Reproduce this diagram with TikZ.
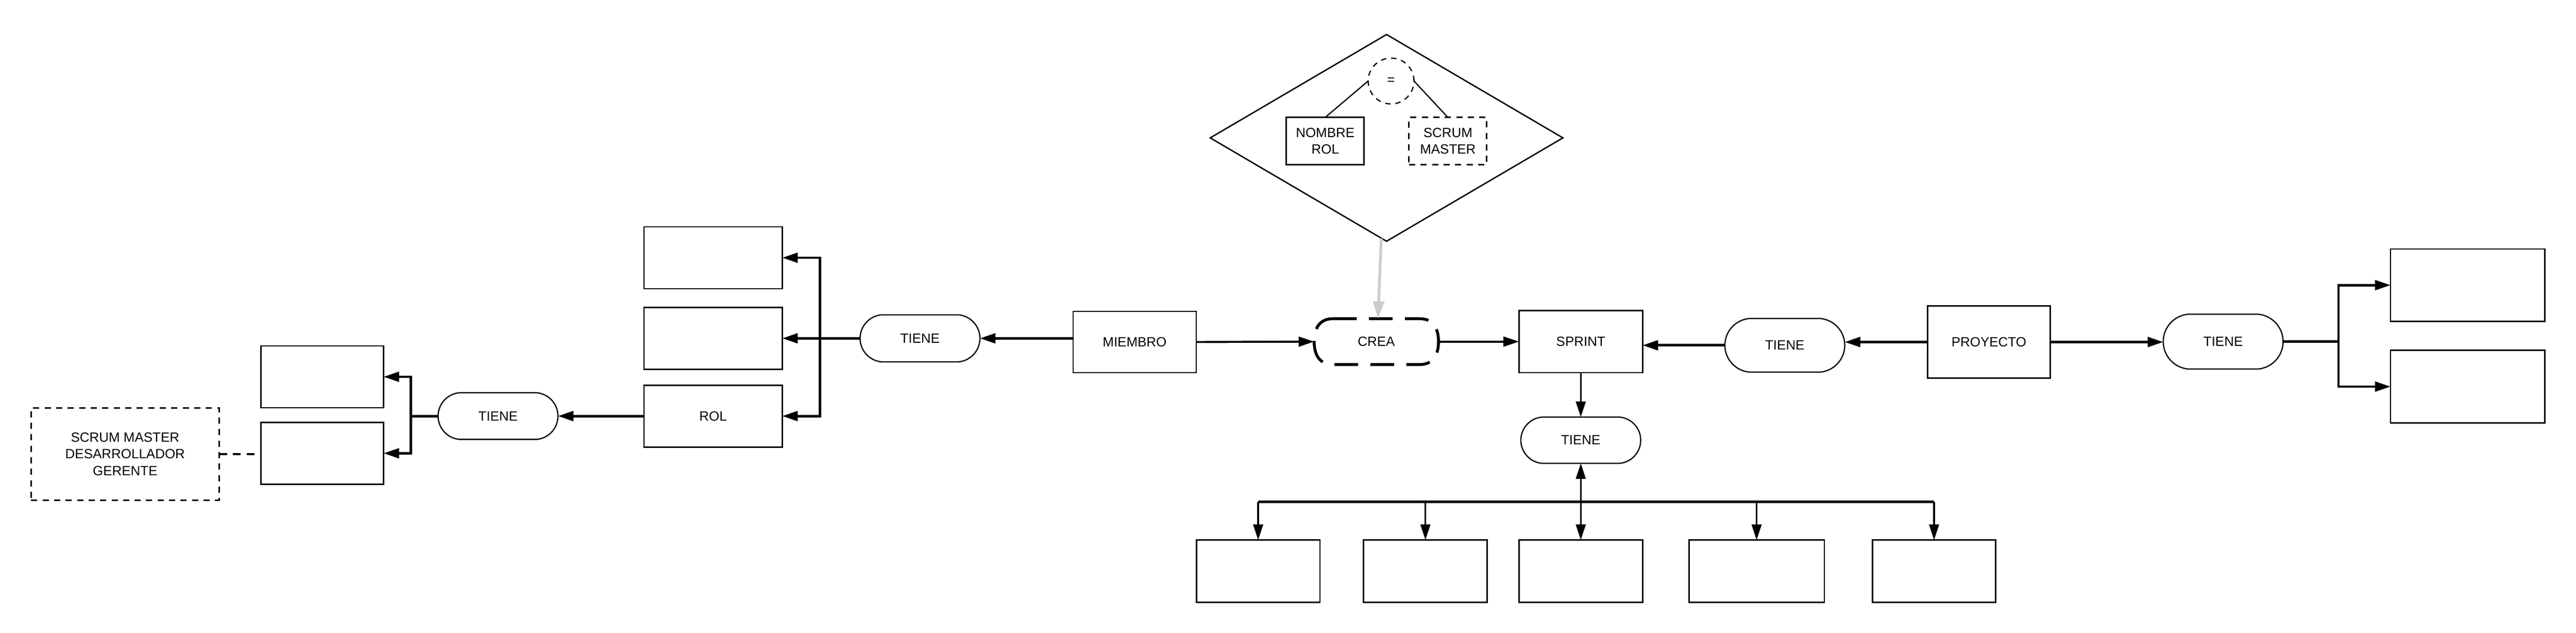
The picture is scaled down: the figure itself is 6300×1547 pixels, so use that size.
\documentclass[tikz,border=0pt]{standalone}
\usepackage{fontspec}
\setmainfont{Liberation Sans}
\usetikzlibrary{arrows.meta,shapes.geometric,shapes.misc,calc}
\definecolor{arrowgray}{gray}{0.8}
\begin{document}
\begin{tikzpicture}[x=0.01cm,y=-0.01cm,
  every node/.style={font=\fontsize{9.3}{11.5}\selectfont, align=center, inner sep=1pt, outer sep=0pt},
  boxnode/.style={draw, rectangle, line width=1pt},
  dashbox/.style={draw, rectangle, line width=1pt, dash pattern=on 4.3pt off 3.7pt},
  tienenode/.style={draw, rounded rectangle, rounded rectangle arc length=170, line width=0.85pt, minimum width=30mm},
  arr/.style={-{Triangle[length=10.8pt,width=6.8pt]}},
  thickc/.style={line width=1.7pt},
  medc/.style={line width=1.4pt},
  thinc/.style={line width=1.15pt},
  crealine/.style={line width=2pt, dash pattern=on 16.5pt off 8.5pt},
]
\path[use as bounding box, fill=white] (0,0) rectangle (6300,1547);

% left part
\node[dashbox, minimum width=46mm, minimum height=22.5mm, font=\fontsize{9.3}{11.7}\selectfont] (roles) at (306,1110) {SCRUM MASTER\\DESARROLLADOR\\GERENTE};
\node[boxnode, minimum width=30mm, minimum height=15.1mm] (la) at (788,921) {};
\node[boxnode, minimum width=30mm, minimum height=15.1mm] (lb) at (788,1108) {};
\node[tienenode, minimum height=11.4mm] (t1) at (1218,1017) {TIENE};
\node[boxnode, minimum width=33.8mm, minimum height=15.1mm] (rol) at (1744,1017) {ROL};
\node[boxnode, minimum width=33.8mm, minimum height=15.1mm] (ma) at (1744,630) {};
\node[boxnode, minimum width=33.8mm, minimum height=15.1mm] (mb) at (1744,827) {};
\node[tienenode, minimum height=11.5mm] (t2) at (2250,827) {TIENE};
\node[boxnode, minimum width=30.1mm, minimum height=15mm] (miembro) at (2775,836) {MIEMBRO};

% centre
\node[minimum width=30.4mm, minimum height=11.2mm] (crea) at (3366,835) {CREA};
\node[boxnode, minimum width=30.2mm, minimum height=15.2mm] (sprint) at (3866,835) {SPRINT};
\node[tienenode, minimum height=11.3mm] (t5) at (3866,1076) {TIENE};
\node[boxnode, minimum width=30.2mm, minimum height=15.2mm] (b1) at (3077,1396) {};
\node[boxnode, minimum width=30.2mm, minimum height=15.2mm] (b2) at (3486,1396) {};
\node[boxnode, minimum width=30.2mm, minimum height=15.2mm] (b3) at (3866,1396) {};
\node[boxnode, minimum width=33.1mm, minimum height=15.2mm] (b4) at (4296,1396) {};
\node[boxnode, minimum width=30.1mm, minimum height=15.2mm] (b5) at (4730,1396) {};

% right part
\node[tienenode, minimum height=13.1mm] (t3) at (4365,844) {TIENE};
\node[boxnode, minimum width=30mm, minimum height=17.6mm] (proyecto) at (4864,836) {PROYECTO};
\node[tienenode, minimum height=13.4mm] (t4) at (5437,835) {TIENE};
\node[boxnode, minimum width=37.7mm, minimum height=17.7mm] (ra) at (6035,697) {};
\node[boxnode, minimum width=37.7mm, minimum height=17.7mm] (rb) at (6035,945) {};

% condition diamond
\node[draw, diamond, line width=0.95pt, minimum width=86.2mm, minimum height=50.5mm, inner sep=0pt] (cond) at (3391,337) {};
\node[draw, circle, line width=0.85pt, dash pattern=on 3.7pt off 3.4pt, minimum size=11.2mm, inner sep=0pt] (eq) at (3402,198) {=};
\node[boxnode, line width=1.1pt, minimum width=19mm, minimum height=11.6mm] (nr) at (3241,345) {NOMBRE\\ROL};
\node[dashbox, line width=1.1pt, minimum width=19mm, minimum height=11.6mm] (sm) at (3541,345) {SCRUM\\MASTER};

% CREA outline
\draw[crealine] ($(crea)+(-106,-56)$) -- ($(crea)+(106,-56)$)
  .. controls ($(crea)+(138,-56)$) and ($(crea)+(152,-34)$) .. ($(crea)+(152,0)$)
  .. controls ($(crea)+(152,34)$) and ($(crea)+(138,56)$) .. ($(crea)+(106,56)$)
  -- ($(crea)+(-106,56)$)
  .. controls ($(crea)+(-138,56)$) and ($(crea)+(-152,34)$) .. ($(crea)+(-152,0)$)
  .. controls ($(crea)+(-152,-34)$) and ($(crea)+(-138,-56)$) .. ($(crea)+(-106,-56)$);

% connectors left
\draw[line width=1.4pt, dash pattern=on 5.5pt off 4pt] (roles.east) -- (roles.east -| lb.west);
\coordinate (j1) at (1005,1017);
\draw[thickc] (t1.west) -- (j1);
\draw[thickc,arr] (j1) |- (la.east);
\draw[thickc,arr] (j1) |- (lb.east);
\draw[thickc,arr] (rol.west) -- (t1.east);
\coordinate (j2) at (2005,827);
\draw[thickc] (t2.west) -- (j2);
\draw[thickc,arr] (j2) |- (ma.east);
\draw[thickc,arr] (j2) |- (mb.east);
\draw[thickc,arr] (j2) |- (rol.east);
\draw[thickc,arr] (miembro.west |- t2.east) -- (t2.east);

% connectors centre
\draw[medc,arr] (miembro.east) -- (crea.west);
\draw[medc,arr] (crea.east) -- (sprint.west);
\draw[thinc,arr] (sprint.south) -- (t5.north);
\coordinate (bus) at (3866,1227);
\draw[thickc, line cap=square] (b1.north |- bus) -- (b5.north |- bus);
\foreach \b in {b1,b2,b3,b4,b5}
  \draw[thinc,arr] (\b.north |- bus) -- (\b.north);
\draw[thinc,arr] (t5.south |- bus) -- (t5.south);

% connectors right
\draw[thickc,arr] (t3.west) -- (t3.west -| sprint.east);
\draw[thickc,arr] (proyecto.west) -- (proyecto.west -| t3.east);
\draw[thickc,arr] (proyecto.east) -- (proyecto.east -| t4.west);
\coordinate (j3) at (5719,835);
\draw[thickc] (t4.east) -- (j3);
\draw[thickc,arr] (j3) |- (ra.west);
\draw[thickc,arr] (j3) |- (rb.west);

% diamond internals and gray arrow
\draw[line width=0.85pt] (eq.west) -- (nr.north);
\draw[line width=0.85pt] (eq.east) -- (sm.north);
\draw[line width=1.9pt, arrowgray, -{Triangle[length=12pt,width=7.7pt]}] ([xshift=-1.3mm, yshift=0.7mm]cond.south) -- ([xshift=0.4mm]crea.north);
\end{tikzpicture}
\end{document}
